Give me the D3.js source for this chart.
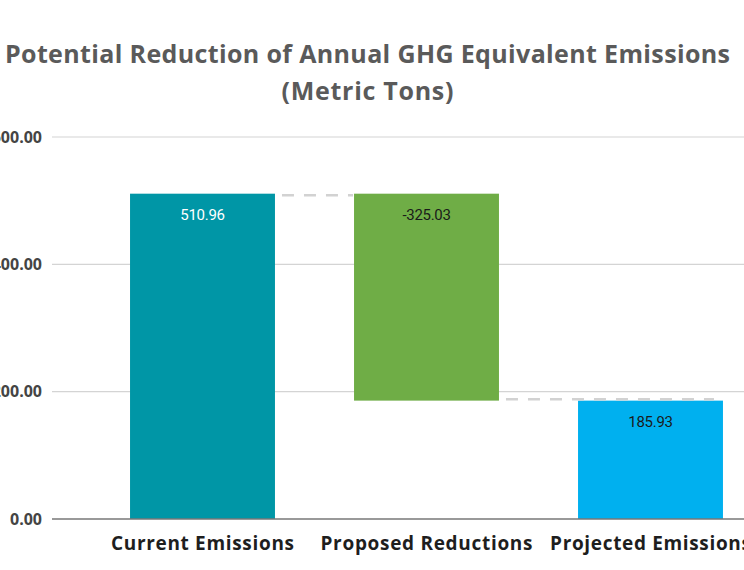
<!DOCTYPE html>
<html><head><meta charset="utf-8">
<script src="https://cdn.jsdelivr.net/npm/d3@7"></script>
<style>body{margin:0;background:#fff}svg{display:block}</style>
</head><body><svg id="c" width="744" height="570"></svg>
<script>
const categories = ["Current Emissions", "Proposed Reductions", "Projected Emissions"];
const values = [510.96, -325.03, 185.93];
const kinds = ["total", "delta", "total"];
const yTicks = [0, 200, 400, 600];
const titleLines = ["Potential Reduction of Annual GHG Equivalent Emissions", "(Metric Tons)"];
const colors = ["#0096a6", "#6fad46", "#00b0ef"];
const labelColors = ["#ffffff", "#1a1a1a", "#1a1a1a"];

const svg = d3.select("#c");
const W = 744, H = 570;
const FONT = "'Open Sans', Lato, sans-serif";

let run = 0;
const segs = values.map((v, i) => {
  let start, end;
  if (kinds[i] === "total") { start = 0; end = v; run = v; }
  else { start = run; end = run + v; run = end; }
  return {cat: categories[i], v, start, end, i};
});

const x = d3.scaleBand().domain(categories).range([90.5, 762.5]).paddingInner(0.353).paddingOuter(0.1765);
const y = d3.scaleLinear().domain([0, 600]).range([519, 137]);

// gridlines
svg.append("g").selectAll("line").data(yTicks.filter(d => d > 0)).join("line")
  .attr("x1", 52).attr("x2", W).attr("y1", d => y(d)).attr("y2", d => y(d))
  .attr("stroke", "#d4d4d4").attr("stroke-width", 1.2);

// y tick labels
const yAxis = d3.axisLeft(y).tickValues(yTicks).tickFormat(d3.format(".2f")).tickSize(0).tickPadding(0);
const ga = svg.append("g").attr("transform", "translate(42,0)").call(yAxis);
ga.select(".domain").remove();
ga.selectAll("text").attr("font-family", FONT).attr("font-weight", "bold")
  .attr("font-size", 16).attr("fill", "#444");

// bars
svg.append("g").selectAll("rect").data(segs).join("rect")
  .attr("x", d => x(d.cat)).attr("width", x.bandwidth())
  .attr("y", d => y(Math.max(d.start, d.end))).attr("height", d => Math.abs(y(d.start) - y(d.end)))
  .attr("fill", d => colors[d.i]);

// connectors
const conn = [];
for (let i = 0; i < segs.length - 1; i++) {
  const last = (i + 1 === segs.length - 1);
  conn.push({
    x1: x(segs[i].cat) + x.bandwidth() + 7,
    x2: last ? x(segs[i+1].cat) + x.bandwidth() - 9 : x(segs[i+1].cat) - 1,
    yy: last ? y(segs[i].end) - 1.3 : y(segs[i].end) + 1.5
  });
}
svg.append("g").selectAll("line").data(conn).join("line")
  .attr("x1", d => d.x1).attr("x2", d => d.x2).attr("y1", d => d.yy).attr("y2", d => d.yy)
  .attr("stroke", "#d2d2d2").attr("stroke-width", 2.5).attr("stroke-dasharray", "12,10");

// value labels
const fmt = d3.format(".2f");
svg.append("g").selectAll("text").data(segs).join("text")
  .attr("x", d => x(d.cat) + x.bandwidth() / 2)
  .attr("y", d => y(Math.max(d.start, d.end)) + 26)
  .attr("text-anchor", "middle").attr("font-family", "Roboto, sans-serif").attr("font-size", 15)
  .attr("letter-spacing", -0.3)
  .attr("fill", d => labelColors[d.i]).text(d => fmt(d.v).replace("\u2212", "-"));

// baseline
svg.append("line").attr("x1", 52).attr("x2", W).attr("y1", y(0)).attr("y2", y(0))
  .attr("stroke", "#777").attr("stroke-width", 1.5);

// x labels
const xl = svg.append("g").selectAll("text").data(categories).join("text")
  .attr("x", d => x(d) + x.bandwidth() / 2).attr("y", 550)
  .attr("text-anchor", "middle").attr("font-family", FONT).attr("font-weight", "bold")
  .attr("font-size", 19).attr("fill", "#1e1e1e").text(d => d);
const k = 183 / xl.node().getComputedTextLength();
xl.each(function() { const L = this.getComputedTextLength(); d3.select(this).attr("textLength", L * k).attr("lengthAdjust", "spacing"); });

// title
const titleW = [725, 172];
svg.append("g").selectAll("text").data(titleLines).join("text")
  .attr("x", 367.5).attr("y", (d, i) => 63 + i * 37)
  .attr("text-anchor", "middle").attr("font-family", FONT).attr("font-weight", "bold")
  .attr("font-size", 25).attr("fill", "#5a5a5a")
  .attr("textLength", (d, i) => titleW[i]).attr("lengthAdjust", "spacing").text(d => d);
</script></body></html>
